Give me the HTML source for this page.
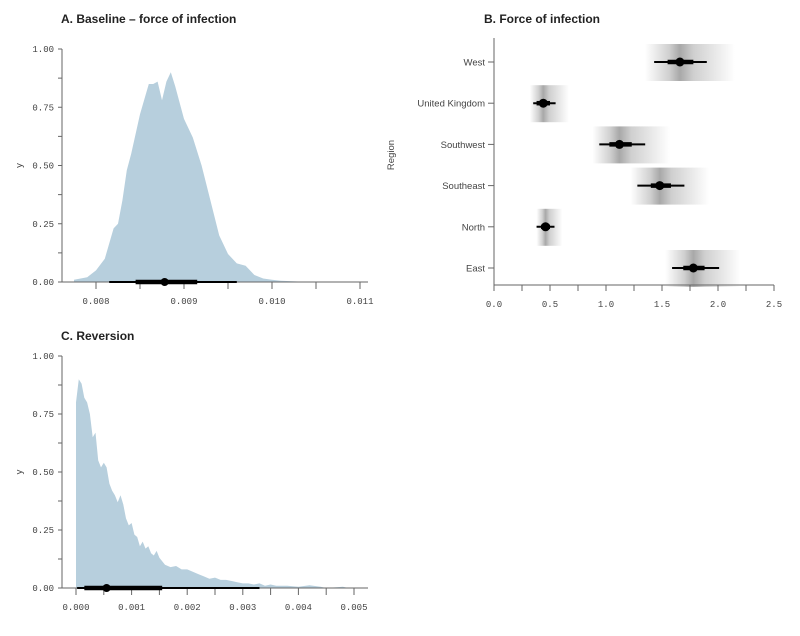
<!DOCTYPE html>
<html><head><meta charset="utf-8"><style>
body{margin:0;background:#fff;width:800px;height:631px;overflow:hidden}
svg text{font-family:"Liberation Sans",sans-serif}
.tk{font-family:"Liberation Mono",monospace;font-size:9px;fill:#444}
.tt{font-size:12px;font-weight:bold;fill:#222}
.lb{font-size:9.5px;fill:#444}
</style></head><body>
<svg id="s" width="800" height="631">
<defs id="defs"></defs>
<text class="tt" x="61" y="23">A. Baseline – force of infection</text>
<text class="tt" x="484" y="23">B. Force of infection</text>
<text class="tt" x="61" y="340">C. Reversion</text>
</svg>
<script>
const aX=[0.00775,0.0079,0.008,0.0081,0.0082,0.00825,0.0083,0.00835,0.0084,0.0085,0.0086,0.00865,0.0087,0.00875,0.0088,0.00885,0.0089,0.009,0.0091,0.0092,0.0093,0.0094,0.0095,0.0096,0.0097,0.0098,0.0099,0.01,0.0101,0.0103,0.0105];
const aY=[0.01,0.02,0.05,0.1,0.23,0.25,0.35,0.48,0.55,0.72,0.85,0.85,0.86,0.78,0.86,0.9,0.84,0.7,0.62,0.5,0.35,0.2,0.12,0.08,0.07,0.03,0.015,0.01,0.005,0.002,0];
const aInt=[0.00815,0.00845,0.00878,0.00915,0.0096];
const aTicks=["0.008","0.009","0.010","0.011"];
const cX=[0,0.00005,0.0001,0.00015,0.0002,0.00025,0.0003,0.00035,0.0004,0.00045,0.0005,0.00055,0.0006,0.00065,0.0007,0.00075,0.0008,0.00085,0.0009,0.00095,0.001,0.00105,0.0011,0.00115,0.0012,0.00125,0.0013,0.00135,0.0014,0.00145,0.0015,0.0016,0.0017,0.0018,0.0019,0.002,0.0021,0.0022,0.0023,0.0024,0.0025,0.0026,0.0027,0.0028,0.0029,0.003,0.0031,0.0032,0.0033,0.0034,0.0035,0.0036,0.0038,0.004,0.0042,0.0044,0.0045,0.0048,0.0049];
const cY=[0.8,0.9,0.88,0.82,0.8,0.75,0.65,0.67,0.55,0.52,0.54,0.52,0.45,0.42,0.4,0.37,0.4,0.36,0.3,0.27,0.28,0.23,0.22,0.18,0.2,0.17,0.18,0.15,0.14,0.16,0.13,0.1,0.09,0.095,0.08,0.08,0.07,0.06,0.05,0.04,0.045,0.035,0.035,0.03,0.025,0.02,0.02,0.015,0.02,0.01,0.015,0.01,0.01,0.005,0.012,0.005,0,0.005,0];
const cInt=[0.00002,0.00015,0.00055,0.00155,0.0033];
const cTicks=["0.000","0.001","0.002","0.003","0.004","0.005"];
const yTicks=["0.00","0.25","0.50","0.75","1.00"];
const regions=["West","United Kingdom","Southwest","Southeast","North","East"];
const med=[1.66,0.44,1.12,1.48,0.46,1.78];
const lo66=[1.55,0.38,1.03,1.4,0.42,1.69];
const hi66=[1.78,0.5,1.23,1.58,0.5,1.88];
const lo95=[1.43,0.35,0.94,1.28,0.38,1.59];
const hi95=[1.9,0.55,1.35,1.7,0.54,2.01];
const bandLo=[1.35,0.32,0.88,1.22,0.38,1.53];
const bandHi=[2.15,0.67,1.57,1.92,0.61,2.2];
const bTicks=["0.0","0.5","1.0","1.5","2.0","2.5"];

const s=document.getElementById('s');const defs=document.getElementById('defs');const NS='http://www.w3.org/2000/svg';
function el(t,a,txt,p){const e=document.createElementNS(NS,t);for(const k in a)e.setAttribute(k,a[k]);if(txt!==undefined)e.textContent=txt;(p||s).appendChild(e);return e;}

function density(X,Y,intv,ticks,x0,x1,px0,px1,py0,py1,pre){
  const sx=v=>px0+(v-x0)/(x1-x0)*(px1-px0);
  const sy=v=>py0-(v)*(py0-py1);
  let d='M'+sx(X[0])+','+py0;
  for(let i=0;i<X.length;i++)d+=' L'+sx(X[i]).toFixed(1)+','+sy(Y[i]).toFixed(1);
  d+=' L'+sx(X[X.length-1])+','+py0+'Z';
  const a=el('path',{d:d,fill:'#b7cfdd'});
  
  const ax=el('line',{x1:62,x2:62,y1:py1,y2:py0,stroke:'#666'});
  
  const bx=el('line',{x1:62,x2:368,y1:py0,y2:py0,stroke:'#666'});
  
  for(let i=0;i<=8;i++){const y=sy(i/8);el('line',{x1:58,x2:62,y1:y,y2:y,stroke:'#666'});}
  yTicks.forEach((t,i)=>{const e=el('text',{class:'tk',x:54,y:sy(i*0.25)+3,'text-anchor':'end'},t);
    });
  const step=(x1-x0)/(ticks.length-1);
  for(let v=x0;v<=x1+step/4;v+=step/2){const x=sx(v);if(x>368)break;el('line',{x1:x,x2:x,y1:py0,y2:py0+7,stroke:'#666'});}
  ticks.forEach((t,i)=>{const e=el('text',{class:'tk',x:sx(x0+i*step),y:py0+22,'text-anchor':'middle'},t);
    });
  const yl=el('text',{class:'lb',x:22,y:(py0+py1)/2,transform:'rotate(-90 22 '+(py0+py1)/2+')','text-anchor':'middle'},'y');
  
  const l1=el('line',{x1:sx(intv[0]),x2:sx(intv[4]),y1:py0,y2:py0,stroke:'#000','stroke-width':2});
  
  const l2=el('line',{x1:sx(intv[1]),x2:sx(intv[3]),y1:py0,y2:py0,stroke:'#000','stroke-width':4.5});
  
  const c=el('circle',{cx:sx(intv[2]),cy:py0,r:4});
  
}
density(aX,aY,aInt,aTicks,0.008,0.011,96,360,282,49,'panel-a');
density(cX,cY,cInt,cTicks,0,0.005,76,354,588,356,'panel-c');

const bx=v=>494+v*112;const rowY=i=>62+i*41.2;
regions.forEach((r,i)=>{const y=rowY(i);
  const off=(med[i]-bandLo[i])/(bandHi[i]-bandLo[i]);
  const g=el('linearGradient',{id:'g'+i,x1:0,x2:1,y1:0,y2:0},undefined,defs);
  el('stop',{offset:0,'stop-color':'#fff'},undefined,g);
  el('stop',{offset:Math.max(0,off-0.12),'stop-color':'#d0d0d0'},undefined,g);
  el('stop',{offset:off,'stop-color':'#a8a8a8'},undefined,g);
  el('stop',{offset:Math.min(1,off+0.15),'stop-color':'#cfcfcf'},undefined,g);
  el('stop',{offset:1,'stop-color':'#fff'},undefined,g);
  const b=el('rect',{x:bx(bandLo[i]),y:y-18,width:bx(bandHi[i])-bx(bandLo[i]),height:37,fill:'url(#g'+i+')'});
  
  const l1=el('line',{x1:bx(lo95[i]),x2:bx(hi95[i]),y1:y,y2:y,stroke:'#000','stroke-width':2});
  
  const l2=el('line',{x1:bx(lo66[i]),x2:bx(hi66[i]),y1:y,y2:y,stroke:'#000','stroke-width':4.5});
  
  const c=el('circle',{cx:bx(med[i]),cy:y,r:4.5});
  
  el('line',{x1:488,x2:494,y1:y,y2:y,stroke:'#666'});
  const t=el('text',{class:'lb',x:485,y:y+3.5,'text-anchor':'end'},r);
  
});
const ya=el('line',{x1:494,x2:494,y1:38,y2:285,stroke:'#666'});

const xa=el('line',{x1:494,x2:774,y1:285,y2:285,stroke:'#666'});

for(let v=0;v<=2.5001;v+=0.25)el('line',{x1:bx(v),x2:bx(v),y1:285,y2:291,stroke:'#666'});
bTicks.forEach((t,i)=>{const e=el('text',{class:'tk',x:bx(i*0.5),y:307,'text-anchor':'middle'},t);
  });
const rl=el('text',{class:'lb',x:394,y:155,transform:'rotate(-90 394 155)','text-anchor':'middle'},'Region');

</script>
</body></html>
